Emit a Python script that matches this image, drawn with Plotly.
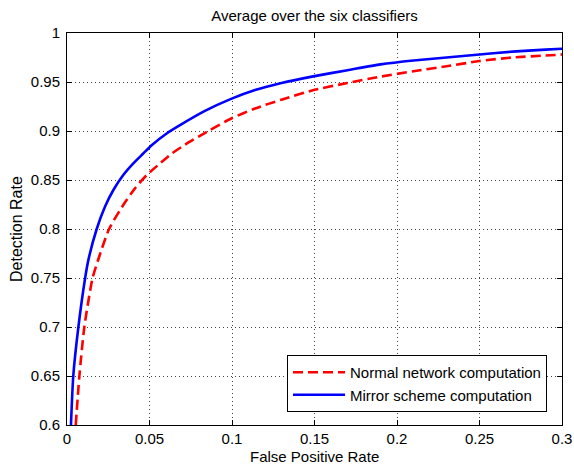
import plotly.graph_objects as go

fpr_mirror = [0.0024, 0.0038, 0.0069, 0.011, 0.0129, 0.018, 0.023, 0.0281, 0.0341, 0.0402,
              0.0462, 0.0513, 0.0604, 0.0695, 0.0836, 0.0998, 0.114, 0.13, 0.15, 0.17, 0.19, 0.21,
              0.23, 0.25, 0.27, 0.29, 0.3]
tpr_mirror = [0.6, 0.65, 0.7, 0.75, 0.768, 0.8, 0.8228, 0.8398, 0.8551, 0.867,
              0.877, 0.8855, 0.8975, 0.907, 0.9205, 0.933, 0.9418, 0.949, 0.956, 0.962, 0.968, 0.972,
              0.975, 0.978, 0.981, 0.983, 0.984]

fpr_normal = [0.0053, 0.0075, 0.0105, 0.0155, 0.0195, 0.0255, 0.0341, 0.0412, 0.0483, 0.0564,
              0.0635, 0.0715, 0.0856, 0.0998, 0.114, 0.13, 0.15, 0.17, 0.19, 0.21, 0.23,
              0.25, 0.27, 0.29, 0.3]
tpr_normal = [0.6, 0.65, 0.7, 0.75, 0.7717, 0.8, 0.8245, 0.8415, 0.855, 0.867,
              0.877, 0.886, 0.9, 0.913, 0.923, 0.932, 0.942, 0.949, 0.9555, 0.961, 0.966,
              0.9714, 0.975, 0.977, 0.978]

x_ticks = [0, 0.05, 0.1, 0.15, 0.2, 0.25, 0.3]
x_tick_labels = ["0", "0.05", "0.1", "0.15", "0.2", "0.25", "0.3"]
y_ticks = [0.6, 0.65, 0.7, 0.75, 0.8, 0.85, 0.9, 0.95, 1.0]
y_tick_labels = ["0.6", "0.65", "0.7", "0.75", "0.8", "0.85", "0.9", "0.95", "1"]

FONT = "Liberation Sans, Arial, Helvetica, sans-serif"
FS = 15

W, H = 574, 464
ML, MR, MT, MB = 67, 12, 33, 39
PH = H - MT - MB
PW = W - ML - MR

fig = go.Figure()
fig.add_trace(go.Scatter(x=fpr_normal, y=tpr_normal, mode="lines",
                         name="Normal network computation",
                         line=dict(color="#ff0000", width=2.6, dash="10px,5px",
                                   shape="spline", smoothing=0.6)))
fig.add_trace(go.Scatter(x=fpr_mirror, y=tpr_mirror, mode="lines",
                         name="Mirror scheme computation",
                         line=dict(color="#0000ff", width=2.6,
                                   shape="spline", smoothing=0.6)))

axis_common = dict(showline=True, linecolor="black", linewidth=1, mirror="ticks",
                   ticks="inside", ticklen=5, tickcolor="black",
                   showgrid=True, gridcolor="#444444", gridwidth=1, griddash="1px,3px",
                   zeroline=False, automargin=False,
                   tickfont=dict(size=FS, color="black"))

fig.update_xaxes(range=[0, 0.3], tickvals=x_ticks, ticktext=x_tick_labels,
                 ticklabelstandoff=0, **axis_common)
fig.update_yaxes(range=[0.6, 1.0], tickvals=y_ticks, ticktext=y_tick_labels,
                 ticklabelstandoff=3, **axis_common)

fig.update_layout(
    width=W, height=H,
    margin=dict(l=ML, r=MR, t=MT, b=MB),
    paper_bgcolor="white", plot_bgcolor="white",
    font=dict(family=FONT, size=FS, color="black"),
    title=dict(text="Average over the six classifiers", x=0.5, xref="paper", xanchor="center",
               y=1 - 16 / H, yanchor="middle", font=dict(size=FS, color="black")),
    legend=dict(x=(547 - ML) / PW, xanchor="right", y=(425 - 412) / PH, yanchor="bottom",
                bordercolor="black", borderwidth=1, bgcolor="white",
                font=dict(size=FS, color="black"), itemwidth=52,
                tracegroupgap=0),
    showlegend=True,
    annotations=[
        dict(text="False Positive Rate", xref="paper", yref="paper", x=0.5, y=-(456 - 425) / PH,
             xanchor="center", yanchor="middle", showarrow=False, font=dict(size=FS, color="black")),
        dict(text="Detection Rate", xref="paper", yref="paper", x=-(ML - 16) / PW, y=0.5,
             xanchor="center", yanchor="middle", textangle=-90, showarrow=False,
             font=dict(size=16, color="black")),
    ],
)

fig.write_html("out.html", config={"displayModeBar": False},
               post_script="document.body.style.margin='0';document.body.style.overflow='hidden';")
